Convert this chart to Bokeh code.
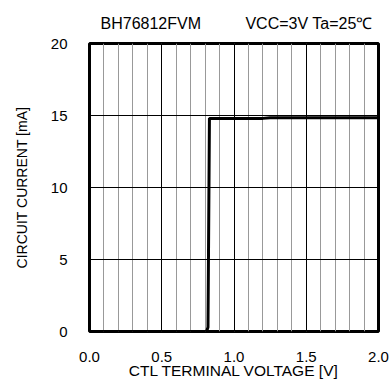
from bokeh.plotting import figure
from bokeh.models import Range1d, SingleIntervalTicker, FixedTicker
from bokeh.embed import file_html
from bokeh.resources import INLINE

# Data
voltage = [0.0, 0.81, 0.82, 0.83, 1.2, 1.25, 2.0]
current = [0.0, 0.0, 0.3, 14.8, 14.8, 14.85, 14.85]
x_ticks = [0.0, 0.5, 1.0, 1.5, 2.0]
y_ticks = [0, 5, 10, 15, 20]
device_name = "BH76812FVM"
conditions = "VCC=3V Ta=25℃"

FONT = "Liberation Sans"

p = figure(width=389, height=381, output_backend="svg", toolbar_location=None,
           x_range=Range1d(0, 2), y_range=Range1d(0, 20))
p.min_border_left = 89
p.min_border_right = 11
p.min_border_top = 43
p.min_border_bottom = 47

p.line(voltage, current, line_color="black", line_width=3)

p.xaxis.ticker = SingleIntervalTicker(interval=0.5, num_minor_ticks=5)
p.yaxis.ticker = FixedTicker(ticks=y_ticks)
p.xaxis.major_label_overrides = {v: f"{v:.1f}" for v in x_ticks}

for ax in (p.xaxis, p.yaxis):
    ax.axis_line_color = None
    ax.major_tick_line_color = None
    ax.minor_tick_line_color = None
    ax.major_label_text_font = FONT
    ax.major_label_text_font_size = "15px"
    ax.major_label_text_color = "black"
    ax.axis_label_text_font = FONT
    ax.axis_label_text_font_style = "normal"
    ax.axis_label_text_color = "black"

p.xaxis.axis_label_text_font_size = "15.5px"
p.yaxis.axis_label_text_font_size = "14px"
p.xaxis.axis_label = "CTL TERMINAL VOLTAGE [V]"
p.yaxis.axis_label = "CIRCUIT CURRENT [mA]"
p.xaxis.major_label_standoff = 14
p.yaxis.major_label_standoff = 16
p.xaxis.axis_label_standoff = -3
p.yaxis.axis_label_standoff = 18

p.xgrid.grid_line_color = "black"
p.xgrid.grid_line_width = 1
p.xgrid.minor_grid_line_color = "#999999"
p.xgrid.minor_grid_line_width = 1
p.ygrid.grid_line_color = "black"
p.ygrid.grid_line_width = 1

p.outline_line_color = "black"
p.outline_line_width = 3
p.background_fill_color = "white"
p.border_fill_color = "white"

p.title.text = device_name + "\u00a0" * 10 + conditions
p.title.align = "left"
p.title.offset = 11
p.title.standoff = 23
p.title.text_font = FONT
p.title.text_font_size = "16px"
p.title.text_font_style = "normal"
p.title.text_color = "black"

open("out.html", "w").write(file_html(p, INLINE))
